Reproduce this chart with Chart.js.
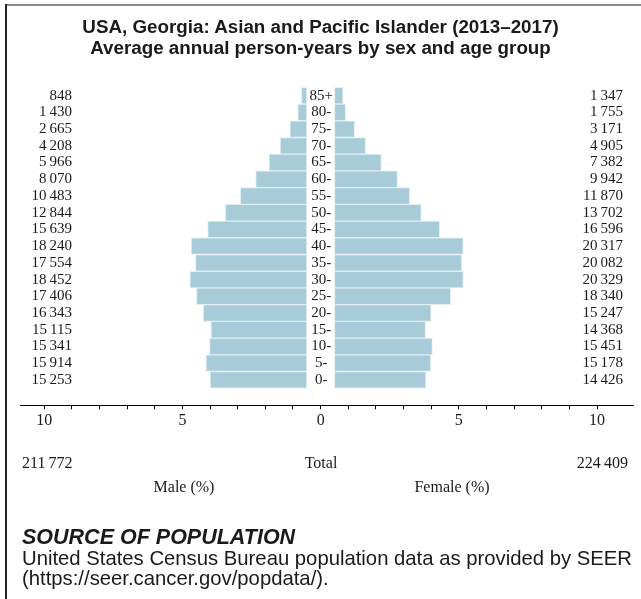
<!DOCTYPE html>
<html>
<head>
<meta charset="utf-8">
<script src="https://cdn.jsdelivr.net/npm/chart.js@4.4.1/dist/chart.umd.min.js"></script>
<style>
    body { margin: 0; background: #fff; }
    #quadro { position: relative; width: 641px; height: 599px; overflow: hidden; }
    #grafico { position: absolute; left: 0; top: 0; }
    .borda-topo { position: absolute; left: 5px; top: 4px; right: 0; height: 2px; background: #8a8a8a; }
    .borda-esq { position: absolute; left: 5px; top: 4px; bottom: 0; width: 2px; background: #222; }
    .titulo { position: absolute; left: 0; width: 641px; text-align: center; font: bold 18.8px "Liberation Sans", Arial, sans-serif; line-height: 22px; color: #1a1a1a; }
    .rotulo { position: absolute; font: 16px "Liberation Serif", serif; line-height: 18px; color: #1a1a1a; white-space: nowrap; }
    .fonte-titulo { position: absolute; left: 22px; top: 525px; font: italic bold 21.5px "Liberation Sans", Arial, sans-serif; line-height: 24px; color: #1a1a1a; }
    .fonte-texto { position: absolute; left: 22px; top: 548px; font: 20.3px "Liberation Sans", Arial, sans-serif; line-height: 20px; color: #1a1a1a; white-space: nowrap; }
</style>
</head>
<body>
<div id="quadro">
    <canvas id="grafico" width="641" height="599"></canvas>
    <div class="borda-topo"></div>
    <div class="borda-esq"></div>
    <div class="titulo" style="top: 16px">USA, Georgia: Asian and Pacific Islander (2013–2017)</div>
    <div class="titulo" style="top: 37px">Average annual person-years by sex and age group</div>
    <div class="rotulo" id="totalHomens" style="left: 22px; top: 454px"></div>
    <div class="rotulo" style="left: 321px; top: 454px; transform: translateX(-50%)">Total</div>
    <div class="rotulo" id="totalMulheres" style="right: 13px; top: 454px"></div>
    <div class="rotulo" style="left: 184px; top: 478px; transform: translateX(-50%)">Male (%)</div>
    <div class="rotulo" style="left: 452px; top: 478px; transform: translateX(-50%)">Female (%)</div>
    <div class="fonte-titulo">SOURCE OF POPULATION</div>
    <div class="fonte-texto">United States Census Bureau population data as provided by SEER<br>(https://seer.cancer.gov/popdata/).</div>
</div>
<script>
// faixas etárias, de baixo para cima
let faixas = ["0-", "5-", "10-", "15-", "20-", "25-", "30-", "35-", "40-", "45-", "50-", "55-", "60-", "65-", "70-", "75-", "80-", "85+"];
let homens = [15253, 15914, 15341, 15115, 16343, 17406, 18452, 17554, 18240, 15639, 12844, 10483, 8070, 5966, 4208, 2665, 1430, 848];
let mulheres = [14426, 15178, 15451, 14368, 15247, 18340, 20329, 20082, 20317, 16596, 13702, 11870, 9942, 7382, 4905, 3171, 1755, 1347];
let totalHomens = 211772;
let totalMulheres = 224409;
let ticksX = [-10, -9, -8, -7, -6, -5, -4, -3, -2, -1, 0, 1, 2, 3, 4, 5, 6, 7, 8, 9, 10];

// espaço no meio para os rótulos das idades (em pontos percentuais)
const vao = 0.5;
const totalGeral = totalHomens + totalMulheres;

function formatarNumero(n) {
    return String(n).replace(/\B(?=(\d{3})+(?!\d))/g, "\u2009");
}

document.getElementById("totalHomens").innerText = formatarNumero(totalHomens);
document.getElementById("totalMulheres").innerText = formatarNumero(totalMulheres);

let dadosHomens = homens.map((v, i) => ({ x: [-(vao + v / totalGeral * 100), -vao], y: i }));
let dadosMulheres = mulheres.map((v, i) => ({ x: [vao, vao + v / totalGeral * 100], y: i }));

const rotulosLinhas = {
    id: "rotulosLinhas",
    afterDatasetsDraw(chart) {
        let ctx = chart.ctx;
        let y = chart.scales.y;
        let x0 = chart.scales.x.getPixelForValue(0);
        ctx.save();
        ctx.fillStyle = "#1a1a1a";
        ctx.font = "15px 'Liberation Serif', serif";
        ctx.textBaseline = "middle";
        faixas.forEach((faixa, i) => {
            let py = y.getPixelForValue(i);
            ctx.textAlign = "right";
            ctx.fillText(formatarNumero(homens[i]), 72, py);
            ctx.fillText(formatarNumero(mulheres[i]), 623, py);
            ctx.textAlign = "center";
            ctx.fillText(faixa, x0 + 0.5, py);
        });
        ctx.restore();
    }
};

new Chart(document.getElementById("grafico"), {
    type: "bar",
    data: {
        datasets: [
            {
                label: "Male",
                data: dadosHomens,
                backgroundColor: "#a7cbd8",
                borderColor: "#e2eef2",
                borderWidth: 1,
                borderSkipped: false
            },
            {
                label: "Female",
                data: dadosMulheres,
                backgroundColor: "#a7cbd8",
                borderColor: "#e2eef2",
                borderWidth: 1,
                borderSkipped: false
            }
        ]
    },
    options: {
        indexAxis: "y",
        responsive: false,
        animation: false,
        layout: { padding: { left: 20.7, right: 8, top: 87.3, bottom: 163.7 } },
        plugins: { legend: { display: false }, tooltip: { enabled: false } },
        datasets: { bar: { barPercentage: 1, categoryPercentage: 1, grouped: false } },
        scales: {
            y: {
                type: "linear",
                display: false,
                offset: false,
                min: -1.52,
                max: 17.5
            },
            x: {
                type: "linear",
                min: -10.85,
                max: 11.3,
                afterBuildTicks: escala => { escala.ticks = ticksX.map(v => ({ value: v })); },
                afterFit: escala => { escala.height = 30; },
                border: { display: true, color: "#000", width: 1 },
                grid: { drawOnChartArea: false, drawTicks: true, tickLength: 4, color: "#000" },
                ticks: {
                    autoSkip: false,
                    maxRotation: 0,
                    padding: 2,
                    color: "#1a1a1a",
                    font: { family: "'Liberation Serif', serif", size: 16 },
                    callback: v => (v % 5 === 0 ? String(Math.abs(v)) : "")
                }
            }
        }
    },
    plugins: [rotulosLinhas]
});
</script>
</body>
</html>
